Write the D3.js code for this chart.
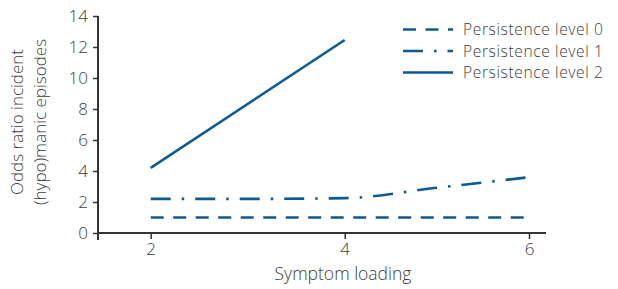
<!DOCTYPE html>
<html><head><meta charset="utf-8">
<script src="https://cdn.jsdelivr.net/npm/d3@7"></script>
<style>body{margin:0;background:#fff}svg{display:block}text{font-family:"Open Sans",sans-serif;font-weight:300;fill:#3c3c3c}</style>
</head><body>
<svg id="c" width="618" height="289"></svg>
<script>
const xTicks = [2, 4, 6];
const yTicks = [0, 2, 4, 6, 8, 10, 12, 14];
const seriesNames = ["Persistence level 0", "Persistence level 1", "Persistence level 2"];
const level0 = [[2, 1.0], [3, 1.0], [4, 1.0], [5, 1.0], [6, 1.0]];
const level1 = [[2, 2.2], [3, 2.2], [4, 2.25], [5, 2.92], [6, 3.6]];
const level2 = [[2, 4.2], [4, 12.45]];
const dashes = ["13,9.5", "20,11,2.5,11", null];

const svg = d3.select("#c");
const color = "#0d5a92";
const x = d3.scaleLinear().domain([2, 4, 6]).range([150.7, 344.7, 529]);
const y = d3.scaleLinear().domain([0, 14]).range([233, 16]);

// axes
const xAxis = svg.append("g").attr("transform", "translate(0,233)")
  .call(d3.axisBottom(x).tickValues(xTicks).tickSize(6).tickPadding(4).tickFormat(d3.format("d")));
xAxis.select(".domain").attr("d", "M98,0H546");
const yAxis = svg.append("g").attr("transform", "translate(98,0)")
  .call(d3.axisLeft(y).tickValues(yTicks).tickSize(5).tickPadding(5).tickFormat(d3.format("d")));
yAxis.select(".domain").attr("d", "M0,16V240");
svg.selectAll(".domain").attr("stroke", "#333").attr("stroke-width", 2);
svg.selectAll(".tick line").attr("stroke", "#333").attr("stroke-width", 1.5);
svg.selectAll(".tick text").attr("font-size", 17).attr("fill", "#3c3c3c")
  .attr("font-family", "Open Sans").attr("font-weight", 300);

// lines
const line = d3.line().x(d => x(d[0])).y(d => y(d[1])).curve(d3.curveMonotoneX);
[level0, level1, level2].forEach((data, i) => {
  svg.append("path").datum(data).attr("d", line).attr("fill", "none")
    .attr("stroke", color).attr("stroke-width", 2.6)
    .attr("stroke-dasharray", dashes[i]);
});

// legend
const ly = [29.5, 51, 72.5];
seriesNames.forEach((name, i) => {
  svg.append("line").attr("x1", 403).attr("x2", 453).attr("y1", ly[i]).attr("y2", ly[i])
    .attr("stroke", color).attr("stroke-width", 2.6).attr("stroke-dasharray", dashes[i]);
  svg.append("text").attr("x", 463).attr("y", ly[i]).attr("dy", "0.36em")
    .attr("font-size", 15.6).attr("letter-spacing", 0.6).text(name);
});

// axis titles
svg.append("text").attr("x", 343).attr("y", 280).attr("text-anchor", "middle")
  .attr("font-size", 17.5).text("Symptom loading");
const yl = svg.append("text").attr("transform", "translate(23,122) rotate(-90)")
  .attr("text-anchor", "middle").attr("font-size", 17);
yl.append("tspan").attr("x", 0).attr("dy", 0).text("Odds ratio incident");
yl.append("tspan").attr("x", 0).attr("dy", 23).text("(hypo)manic episodes");
</script>
</body></html>
